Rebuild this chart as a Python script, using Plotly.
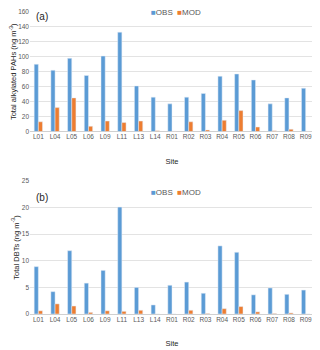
import plotly.graph_objects as go
from plotly.subplots import make_subplots

sites = ["L01", "L04", "L05", "L06", "L09", "L11", "L13", "L14", "R01",
         "R02", "R03", "R04", "R05", "R06", "R07", "R08", "R09"]

pah_obs = [90, 82, 98, 75, 101, 133, 61, 46, 37, 46, 51, 74, 77, 69, 37, 45, 58]
pah_mod = [13, 32, 45, 7, 14, 12, 14, 1, 0.5, 13, 2, 15, 28, 6, 1, 3, 0.3]

dbt_obs = [8.9, 4.2, 11.9, 5.8, 8.2, 20.1, 5.0, 1.7, 5.4, 6.0, 3.9, 12.8, 11.6, 3.6, 4.9, 3.7, 4.5]
dbt_mod = [0.6, 1.9, 1.5, 0.3, 0.6, 0.5, 0.7, 0, 0, 0.7, 0.1, 1.0, 1.4, 0.4, 0.1, 0.2, 0]

blue = "#5B9BD5"
orange = "#ED7D31"

# page body has an 8px margin, so the figure is a bit smaller than the window
W, H = 312, 342

fig = make_subplots(rows=2, cols=1)

fig.add_trace(go.Bar(x=sites, y=pah_obs, name="OBS", marker_color=blue, showlegend=False), row=1, col=1)
fig.add_trace(go.Bar(x=sites, y=pah_mod, name="MOD", marker_color=orange, showlegend=False), row=1, col=1)
fig.add_trace(go.Bar(x=sites, y=dbt_obs, name="OBS", marker_color=blue, showlegend=False), row=2, col=1)
fig.add_trace(go.Bar(x=sites, y=dbt_mod, name="MOD", marker_color=orange, showlegend=False), row=2, col=1)

font_family = "Liberation Sans, Arial"
tick_font = dict(family=font_family, size=6.5, color="#595959")
title_font = dict(family=font_family, size=7.5, color="#262626")

axis_common = dict(tickfont=tick_font, showline=False, ticks="", automargin=False)
fig.update_xaxes(domain=[22 / W, 306 / W], **axis_common)
fig.update_yaxes(showgrid=True, gridcolor="#E3E3E3", gridwidth=1,
                 zeroline=True, zerolinecolor="#D0D0D0", zerolinewidth=1, **axis_common)

fig.update_xaxes(title=dict(text="Site", font=title_font, standoff=19), row=1, col=1)
fig.update_xaxes(title=dict(text="Site", font=title_font, standoff=19), row=2, col=1)
fig.update_yaxes(domain=[1 - 123.5 / H, 1 - 4 / H], range=[0, 160], dtick=20,
                 title=dict(text="Total alkylated PAHs (ng m<sup>-3</sup>)", font=title_font, standoff=1),
                 row=1, col=1)
fig.update_yaxes(domain=[1 - 306 / H, 1 - 173 / H], range=[0, 25], dtick=5,
                 title=dict(text="Total DBTs (ng m<sup>-3</sup>)", font=title_font, standoff=1),
                 row=2, col=1)

legend_text = (f"<span style='color:{blue}'>■</span>OBS  "
               f"<span style='color:{orange}'>■</span>MOD")
legend_font = dict(family=font_family, size=8, color="#595959")
label_font = dict(family=font_family, size=10, color="#262626")

fig.update_layout(
    width=W, height=H,
    margin=dict(l=0, r=0, t=0, b=0),
    plot_bgcolor="white", paper_bgcolor="white",
    barmode="group", bargap=0.5, bargroupgap=0.0,
    annotations=[
        dict(text=legend_text, x=168 / W, y=1 - 5 / H, xref="paper", yref="paper",
             xanchor="center", yanchor="middle", showarrow=False, font=legend_font),
        dict(text=legend_text, x=168 / W, y=1 - 184 / H, xref="paper", yref="paper",
             xanchor="center", yanchor="middle", showarrow=False, font=legend_font),
        dict(text="(a)", x=34 / W, y=1 - 8 / H, xref="paper", yref="paper",
             xanchor="center", yanchor="middle", showarrow=False, font=label_font),
        dict(text="(b)", x=34 / W, y=1 - 189 / H, xref="paper", yref="paper",
             xanchor="center", yanchor="middle", showarrow=False, font=label_font),
    ],
)

fig.write_html("out.html")
